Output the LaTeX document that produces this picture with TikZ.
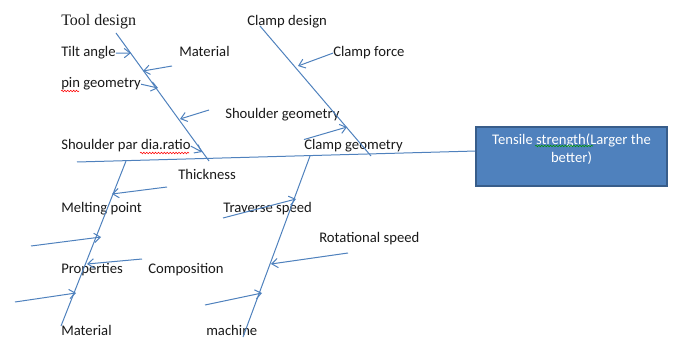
\documentclass[tikz,border=0pt]{standalone}
\usepackage{fontspec}
\setmainfont{Carlito}
\newfontfamily\titleserif{Liberation Serif}
\usetikzlibrary{positioning,calc,arrows.meta,decorations.pathmorphing}
\definecolor{boneblue}{RGB}{79,129,189}
\definecolor{boxedge}{RGB}{56,93,138}
\definecolor{inkgrey}{RGB}{25,25,25}
\tikzset{font=\fontsize{11}{13.5}\selectfont}

\begin{document}
\begin{tikzpicture}[x=0.75pt,y=-0.75pt]
	\useasboundingbox (0,0) rectangle (673,338);
	\begin{scope}
		\tikzstyle{every node}=[inner sep=0pt, text=inkgrey, anchor=base west]
		\tikzstyle{bone}=[draw=boneblue, line width=0.75pt]
		\tikzstyle{rib}=[bone, -{Straight Barb[length=4.5pt,width=7pt]}]
		\tikzstyle{squiggle}=[line width=0.4pt, decorate, decoration={snake, amplitude=0.6pt, segment length=2.2pt}]

		\node[anchor=center, fill=boneblue, draw=boxedge, line width=1.5pt,
			minimum width=143.25pt, minimum height=44.25pt,
			label={[anchor=north, yshift=-5.5pt, text=white, align=center, inner sep=0pt]north:Tensile strength(Larger the\\better)}]
			(goal) at (571.5,156.5) {};

		\node (tool) at (61,26) {\titleserif\fontsize{12}{14}\selectfont Tool design};
		\node (clampd) at (247,26) {Clamp design};
		\node (tilt) at (61,57) {Tilt angle};
		\node (mattop) at (179,57) {Material};
		\node (cforce) at (333,57) {Clamp force};
		\node (pin) at (61,88) {pin geometry};
		\node (shgeo) at (225,119) {Shoulder geometry};
		\node (spd) at (61,150) {Shoulder par dia.ratio};
		\node (cgeo) at (304,150) {Clamp geometry};
		\node (thick) at (178,180) {Thickness};
		\node (melt) at (61,212) {Melting point};
		\node (trav) at (223,212) {Traverse speed};
		\node (rot) at (319,242) {Rotational speed};
		\node (prop) at (61,273) {Properties};
		\node (comp) at (148,273) {Composition};
		\node (matbot) at (61,335) {Material};
		\node (mach) at (206,335) {machine};

		\coordinate (s1) at (77,162);
		\coordinate (t1) at (116,33);
		\coordinate (t2) at (209,161);
		\coordinate (c1) at (260,26);
		\coordinate (c2) at (371,156);
		\coordinate (m1) at (126,161);
		\coordinate (m2) at (61,326);
		\coordinate (k1) at (310,156);
		\coordinate (k2) at (243,337);

		\draw[bone] (s1) -- ([yshift=4.1pt]goal.west);
		\draw[bone] (t1) -- (t2);
		\draw[bone] (c1) -- (c2);
		\draw[bone] (m1) -- (m2);
		\draw[bone] (k1) -- (k2);

		\coordinate (a2) at (172,66);
		\coordinate (a4) at (209,110);
		\coordinate (a8) at (167,187);
		\coordinate (a9) at (31,246);
		\coordinate (a10) at (142,259);
		\coordinate (a11) at (15,302);
		\coordinate (a12) at (223,218);
		\coordinate (a13) at (348,253);
		\coordinate (a14) at (205,305);

		\draw[rib] (tilt.east) -- (131,53);
		\draw[rib] (a2) -- (143,71);
		\draw[rib] (pin.east) -- (158,88);
		\draw[rib] (a4) -- (180,119);
		\draw[rib] (spd.east) -- (202,152);
		\draw[rib] (cforce.west) -- (298,66);
		\draw[rib] (cgeo.north west) -- (347,127);
		\draw[rib] (a8) -- (112,194);
		\draw[rib] (a9) -- (101,237);
		\draw[rib] (a10) -- (87,264);
		\draw[rib] (a11) -- (76,293);
		\draw[rib] (a12) -- (296,199);
		\draw[rib] (a13) -- (271,264);
		\draw[rib] (a14) -- (262,293);

		\draw[squiggle, red] (61,91) -- (79,91);
		\draw[squiggle, red] (140,153) -- (189,153);
		\draw[squiggle, green!60!black] (535,146) -- (593,146);
	\end{scope}
\end{tikzpicture}
\end{document}
